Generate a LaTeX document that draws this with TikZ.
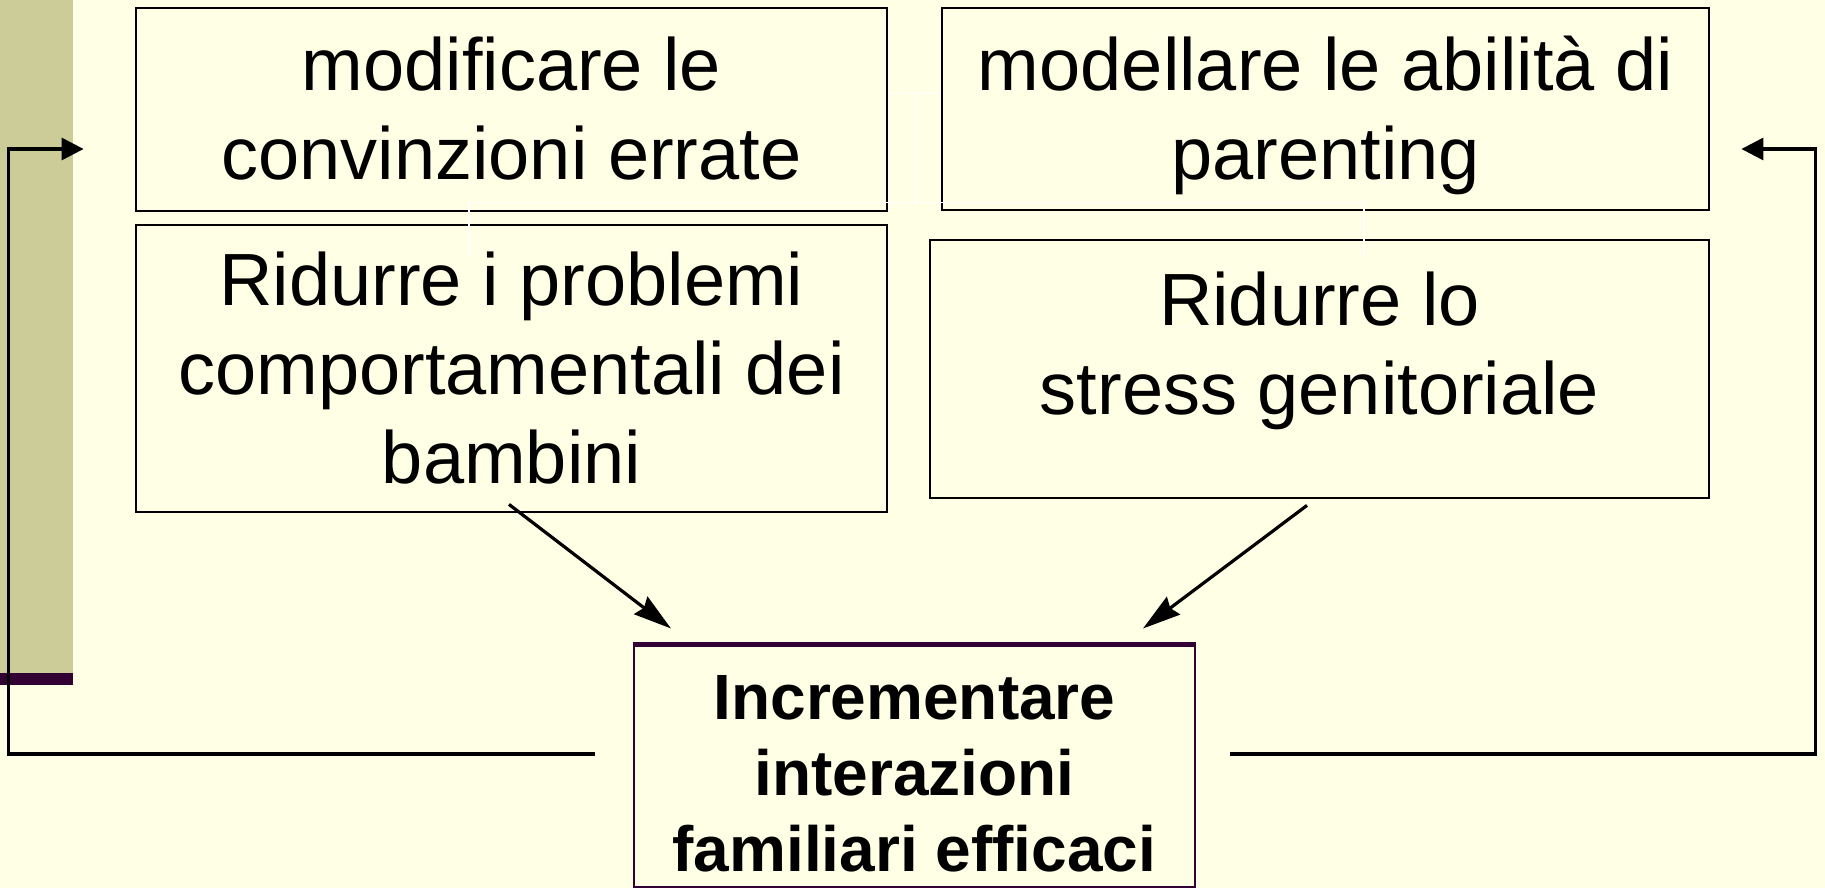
\documentclass[tikz,border=0pt]{standalone}
\usepackage{fontspec}
\setmainfont{Liberation Sans}
\usetikzlibrary{arrows.meta}
\definecolor{slidebg}{RGB}{255,255,229}
\definecolor{olivebar}{RGB}{204,204,153}
\definecolor{darkplum}{RGB}{51,0,51}
\newcommand{\linestrut}{\rule[-0.2\baselineskip]{0pt}{0.98\baselineskip}}

\begin{document}
\begin{tikzpicture}[x=0.5pt,y=-0.5pt,
        box/.style={draw,line width=1.4pt,fill=slidebg,inner sep=0pt,align=center,
            font=\fontsize{37}{44.5}\selectfont},
        goal/.style={box,draw=darkplum,font=\fontsize{32}{38}\selectfont\bfseries},
        arr/.style={-{Stealth[length=19pt,width=11pt,inset=2pt]},line width=1.6pt},
        back/.style={-{Triangle[length=11pt,width=11pt]},line width=1.6pt},
        ghost/.style={white,line width=0.6pt}]
        \fill[slidebg] (0,0) rectangle (1825,888);
        \useasboundingbox (0,0) rectangle (1825,888);
        % side bar
        \fill[olivebar] (0,0) rectangle (73,673);
        \fill[darkplum] (0,673) rectangle (73,685);

        % boxes
        \node[box,minimum width=375.5pt,minimum height=101.5pt] (modif) at (511.5,109.5)
            {\linestrut modificare le\\convinzioni errate\linestrut};
        \node[box,minimum width=383.5pt,minimum height=101pt] (model) at (1325.5,109)
            {\linestrut modellare le abilità di\\parenting\linestrut};
        \node[box,minimum width=375.5pt,minimum height=143.5pt] (probl) at (511.5,368.5)
            {\linestrut Ridurre i problemi\\comportamentali dei\\bambini\linestrut};
        \node[box,minimum width=389.5pt,minimum height=129pt] (stress) at (1319.5,369)
            {\linestrut Ridurre lo\\stress genitoriale\rule[-34pt]{0pt}{0pt}};
        \node[goal,minimum width=280.5pt,minimum height=119.5pt] (incr) at (914.5,766.5)
            {\rule{0pt}{37pt}Incrementare\\interazioni\\familiari efficaci\linestrut};
        \draw[darkplum,line width=2.5pt] (incr.north west) -- (incr.north east);

        % white leftovers
        \draw[ghost] ([yshift=8pt]modif.east) -- ([yshift=8pt]model.west);
        \draw[ghost] ([xshift=13.5pt,yshift=8pt]modif.east) -- ++(0,-55.5pt);
        \draw[ghost] ([xshift=-21.25pt,yshift=-16pt]probl.north) -- ++(0,26.5pt)
            -| ([xshift=22.25pt,yshift=-8.5pt]stress.north);

        % arrows
        \draw[arr] ([xshift=-1.25pt,yshift=4.5pt]probl.south) -- ([xshift=-121.75pt,yshift=8pt]incr.north);
        \draw[arr] ([xshift=-6.25pt,yshift=-3pt]stress.south) -- ([xshift=114.25pt,yshift=8pt]incr.north);
        \draw[back] ([xshift=-19pt,yshift=6.25pt]incr.west) -- ++(-293pt,0)
            |- ([xshift=-25.5pt,yshift=-19.75pt]modif.west);
        \draw[back] ([xshift=17pt,yshift=6.25pt]incr.east) -- ++(292.5pt,0)
            |- ([xshift=15.5pt,yshift=-20pt]model.east);
    \end{tikzpicture}
\end{document}
